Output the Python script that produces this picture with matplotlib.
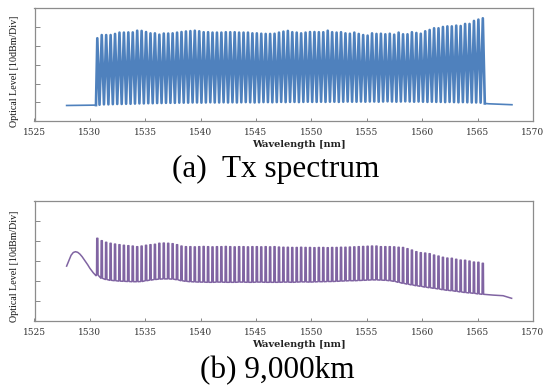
import numpy as np
import matplotlib
matplotlib.use("Agg")
import matplotlib.pyplot as plt

# channel grid (50 GHz, 88 channels)
ch_start = 1530.67
ch_step = 0.4
n_ch = 88

# (a) Tx spectrum, levels in divisions (10 dB/Div)
tx_peak = [4.41, 4.58, 4.58, 4.58, 4.64, 4.71, 4.71, 4.72, 4.72, 4.81,
           4.80, 4.74, 4.67, 4.67, 4.60, 4.66, 4.66, 4.67, 4.71, 4.74,
           4.77, 4.79, 4.81, 4.78, 4.73, 4.73, 4.71, 4.71, 4.71, 4.73,
           4.73, 4.73, 4.71, 4.71, 4.71, 4.67, 4.67, 4.65, 4.64, 4.64,
           4.65, 4.71, 4.76, 4.80, 4.73, 4.71, 4.67, 4.71, 4.74, 4.74,
           4.73, 4.73, 4.81, 4.73, 4.71, 4.73, 4.67, 4.65, 4.71, 4.64,
           4.58, 4.55, 4.67, 4.64, 4.65, 4.62, 4.65, 4.60, 4.71, 4.62,
           4.62, 4.73, 4.69, 4.65, 4.78, 4.85, 4.94, 4.94, 5.01, 5.04,
           5.04, 5.08, 5.06, 5.17, 5.17, 5.33, 5.40, 5.47]
tx_valley = [0.88, 0.90, 0.90, 0.91, 0.92, 0.92, 0.93, 0.93, 0.94, 0.95,
             0.95, 0.96, 0.96, 0.97, 0.97, 0.98, 0.98, 0.98, 0.99, 0.99,
             0.99, 1.00, 1.00, 0.99, 1.00, 1.01, 1.00, 1.00, 1.01, 1.00,
             1.01, 1.00, 1.01, 1.02, 1.01, 1.00, 1.01, 1.02, 1.02, 1.01,
             1.02, 1.03, 1.02, 1.03, 1.03, 1.02, 1.03, 1.04, 1.03, 1.03,
             1.04, 1.03, 1.04, 1.04, 1.03, 1.04, 1.05, 1.04, 1.04, 1.05,
             1.04, 1.05, 1.05, 1.04, 1.05, 1.06, 1.05, 1.04, 1.05, 1.06,
             1.05, 1.04, 1.05, 1.04, 1.03, 1.04, 1.03, 1.03, 1.02, 1.03,
             1.02, 1.01, 1.02, 1.01, 1.00, 1.00, 0.99]
tx_pre_wl = [1527.9, 1530.55]
tx_pre_lv = [0.84, 0.86]
tx_post_wl = [1565.65, 1566.0, 1568.1]
tx_post_lv = [0.95, 0.93, 0.88]

# (b) after 9,000 km
rx_top = [4.12, 4.00, 3.92, 3.87, 3.83, 3.80, 3.77, 3.75, 3.73, 3.70,
          3.73, 3.77, 3.80, 3.82, 3.87, 3.88, 3.87, 3.85, 3.80, 3.73, 3.70,
          3.70, 3.69, 3.70, 3.71, 3.70, 3.69, 3.70, 3.70, 3.71, 3.70,
          3.69, 3.70, 3.70, 3.69, 3.70, 3.70, 3.69, 3.70, 3.69, 3.70,
          3.68, 3.67, 3.67, 3.66, 3.66, 3.67, 3.66, 3.66, 3.65, 3.66,
          3.66, 3.65, 3.66, 3.66, 3.67, 3.67, 3.68, 3.69, 3.70, 3.71,
          3.72, 3.73, 3.73,
          3.70, 3.70, 3.70, 3.69, 3.67, 3.66, 3.60, 3.53, 3.45, 3.40,
          3.38, 3.35, 3.28, 3.23, 3.17, 3.13, 3.12, 3.07, 3.03, 3.02,
          2.98, 2.93, 2.92, 2.87]
rx_floor = [2.28, 2.12, 2.06, 2.02, 2.00, 1.98, 1.97, 1.96, 1.95, 1.95,
            1.96, 2.00, 2.03, 2.06, 2.08, 2.09, 2.09, 2.08, 2.05, 2.00,
            1.97, 1.95,
            1.94, 1.93, 1.93, 1.92, 1.92, 1.93, 1.93, 1.92, 1.92, 1.92,
            1.93, 1.93, 1.92, 1.92, 1.93, 1.93, 1.92, 1.92, 1.92,
            1.92, 1.93, 1.93, 1.92, 1.93, 1.94, 1.94, 1.93, 1.94, 1.95,
            1.95, 1.96, 1.96, 1.97, 1.98, 1.99, 2.00, 2.00,
            2.01, 2.02, 2.03, 2.04, 2.04, 2.03, 2.02, 2.00,
            1.97, 1.92, 1.87, 1.83, 1.79, 1.75, 1.72, 1.68, 1.65, 1.62,
            1.59, 1.55, 1.52, 1.50, 1.47, 1.44, 1.41, 1.39, 1.37, 1.34, 1.32]
rx_pre_wl = [1527.9, 1528.1, 1528.3, 1528.5, 1528.7, 1528.9, 1529.1, 1529.3,
             1529.55, 1529.8, 1530.0, 1530.3, 1530.55]
rx_pre_lv = [2.73, 3.00, 3.27, 3.41, 3.45, 3.42, 3.33, 3.20,
             3.00, 2.80, 2.62, 2.40, 2.25]
rx_post_wl = [1566.4, 1567.3, 1568.07]
rx_post_lv = [1.28, 1.25, 1.12]

xticks = [1525, 1530, 1535, 1540, 1545, 1550, 1555, 1560, 1565, 1570]

ch_wl = ch_start + ch_step * np.arange(n_ch)

# build traces
tx_x, tx_y = [tx_pre_wl[-1]], [tx_pre_lv[-1]]
for i in range(n_ch):
    tx_x.append(ch_wl[i]); tx_y.append(tx_peak[i])
    if i < n_ch - 1:
        tx_x.append(ch_wl[i] + ch_step / 2); tx_y.append(tx_valley[i])
tx_x.append(tx_post_wl[0]); tx_y.append(tx_post_lv[0])

rx_x, rx_y = list(rx_pre_wl), list(rx_pre_lv)
for i in range(n_ch):
    rx_x += [ch_wl[i] - 0.07, ch_wl[i] - 0.05, ch_wl[i] + 0.05, ch_wl[i] + 0.07]
    rx_y += [rx_floor[i], rx_top[i], rx_top[i], rx_floor[i]]
rx_x += rx_post_wl; rx_y += rx_post_lv

W, H = 547, 387
fig = plt.figure(figsize=(W / 100, H / 100), dpi=100)
ax1 = fig.add_axes([34.5 / W, 1 - 121.3 / H, 498.5 / W, 113 / H])
ax2 = fig.add_axes([34.5 / W, 1 - 320.7 / H, 498.5 / W, 120 / H])

# thin baseline outside the band, heavy trace over the channels
ax1.plot(tx_pre_wl, tx_pre_lv, color="#4F81BD", lw=1.2)
ax1.plot(tx_post_wl, tx_post_lv, color="#4F81BD", lw=1.2)
ax1.plot(tx_x, tx_y, color="#4F81BD", lw=1.9)
ax2.plot(rx_x, rx_y, color="#8064A2", lw=1.1)

for ax in (ax1, ax2):
    ax.set_xlim(1525, 1570)
    ax.set_ylim(0, 6)
    ax.set_xticks(xticks)
    ax.set_xticklabels([str(t) for t in xticks], family="DejaVu Serif",
                       fontsize=6.5, color="#333333")
    ax.set_yticks([1, 2, 3, 4, 5])
    ax.set_yticklabels([])
    ax.tick_params(axis="x", direction="in", length=2, width=0.7,
                   color="#888888", pad=5)
    ax.tick_params(axis="y", direction="in", length=3.6, width=0.7,
                   color="#888888")
    for s in ax.spines.values():
        s.set_color("#8c8c8c")
        s.set_linewidth(0.9)

for yb, ylab in [(1 - 146.7 / H, 71), (1 - 346.7 / H, 266.7)]:
    fig.text(299 / W, yb, "Wavelength [nm]", family="DejaVu Serif",
             weight="bold", fontsize=7, ha="center", va="baseline",
             color="#222222")
    fig.text(15 / W, 1 - ylab / H, "Optical Level [10dBm/Div]",
             family="Liberation Serif", fontsize=7.2, rotation=90,
             ha="center", va="center", color="#111111")

fig.text(276 / W, 1 - 176.7 / H, "(a)  Tx spectrum", family="Liberation Serif",
         fontsize=22.5, ha="center", va="baseline")
fig.text(277 / W, 1 - 378.5 / H, "(b) 9,000km", family="Liberation Serif",
         fontsize=22.5, ha="center", va="baseline")

fig.savefig("out.png", dpi=100)
